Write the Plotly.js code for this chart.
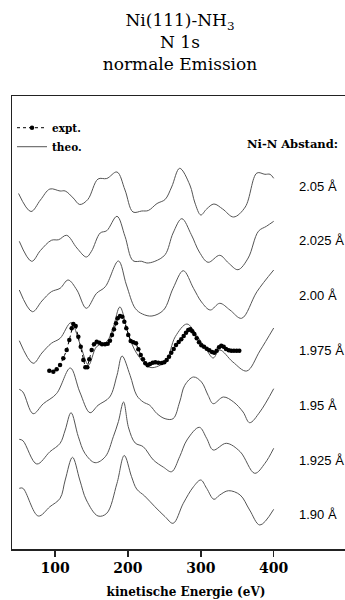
<!DOCTYPE html>
<html><head><meta charset="utf-8">
<script src="https://cdn.plot.ly/plotly-3.0.1.min.js"></script>
<style>html,body{margin:0;padding:0;overflow:hidden;background:#fff}#chart{width:360px;height:600px}</style>
</head><body><div id="chart"></div>
<script>
// Ni-N distances (one theory curve each) and vertical stacking offsets
const distances = ['2.05 Å', '2.025 Å', '2.00 Å', '1.975 Å', '1.95 Å', '1.925 Å', '1.90 Å'];
const offsets = [329, 279, 229, 177, 126, 75, 23];

// theory curves: kinetic energy (eV) and relative intensity
const E_205 = [50,67,80,93,107,114,125,134,145,159,171,185,196,207,219,228,240,251,260,271,285,292,300,308,318,330,345,361,377,388,395,400];
const I_205 = [26.5,8.5,20,31,29,29,22,15.5,20.5,41,41.5,48,30,8,9,9.5,16.5,20.5,33,51.7,35,17,5,11,16,11,3,13,47,45.7,45.7,41.7];

const E_2025 = [51,68,80,95,105,116,130,143,150,162,171,185,196,207,219,226,237,251,262,274,287,298,310,326,338,351,365,379,390,400];
const I_2025 = [28.7,8.7,19.5,29.7,30.3,34.7,22,13,18.7,37,39.3,53.7,33.7,9.3,8.7,7,8.7,15.3,37,51.3,35.3,18,7.7,14.7,7,0.3,12,38.7,43.7,48.7];

const E_200 = [51,69,82,95,107,118,130,143,157,169,187,198,210,220,233,249,262,276,290,301,313,326,340,356,377,400];
const I_200 = [30,8.3,19,28.3,31.7,40,30,11.7,26.7,33.3,59,35,11.7,6,4,10,31.7,49.3,31.7,18,10,16.7,10,1.7,28.3,50];

const E_1975 = [51,70,82,95,107,122,134,146,157,171,180,189,201,212,230,242,253,265,281,294,308,317,326,344,363,381,400];
const I_1975 = [31.3,8.7,19,28.7,33.7,49.3,28.7,7,25.3,30.3,45,65,37,18.7,4.7,6,12,35.3,48,37,22,14,22,10,1,21,44];

const E_195 = [51,56,70,84,102,121,134,148,159,175,185,192,203,212,221,230,240,251,262,271,278,290,301,310,317,331,345,358,367,381,400];
const I_195 = [33.7,31,9.3,19.3,29.3,55,31,10.3,17.7,26,47.7,67,47.7,27.7,21,17.7,9.3,4.3,4.3,21,37.7,46,41,27.7,19.3,26,21,11,0.3,11,34.3];

const E_1925 = [51,56,75,93,107,114,122,132,141,155,169,180,187,194,201,210,221,235,249,260,271,281,298,308,317,335,354,374,388,400];
const I_1925 = [34.7,33.3,10,22.3,30.7,44,61.3,37.3,20.7,11.3,17.3,37.3,52.5,72,46,31,27.3,14,6.7,2.3,17.3,34,46.7,35.7,24,30.7,22.3,0.7,10.7,25.7];

const E_190 = [51,56,77,93,107,114,124,134,143,159,171,185,195,205,212,223,237,251,262,276,290,300,308,318,326,338,354,367,381,400];
const I_190 = [37.7,37.7,10,19.3,27.7,46,68.7,46,26,10,12.7,42.7,70.5,49.3,37,30,19.3,9.3,2.7,22.7,39.3,46,37.7,26.7,31,35.3,31,16,1,16.7];

// experiment (drawn on the 1.975 Å curve)
const E_expt = [92.2,97.7,102.3,106.9,111.4,116.0,119.6,122.9,125.1,128.4,132.0,135.3,138.8,141.6,144.3,147.0,150.3,153.5,157.2,160.8,164.5,168.6,172.3,175.4,178.2,180.9,183.7,186.0,189.2,192.3,195.1,197.8,200.5,203.8,207.4,211.1,214.3,217.6,220.7,223.9,227.2,230.3,234.0,237.6,241.7,246.4,249.9,253.2,256.4,259.5,262.8,266.0,269.7,273.2,276.5,279.7,282.8,285.6,288.3,291.1,294.4,297.5,300.7,304.4,308.1,311.7,315.4,318.5,321.8,325.0,328.1,331.4,334.6,338.3,341.8,345.5,349.2,352.8];
const I_expt = [1.3,0.3,2.7,7,13.7,22,32,43.7,48,46,35.3,25.3,12,4.7,4.7,12.7,22,27.7,30.3,29.3,27.7,27.7,28.3,31.3,37,42.7,48.7,53.7,56,55.3,50.3,43.7,37,31,29.7,28.7,22.7,17,12.7,8.7,6.7,8,9.3,9.7,9.3,9,9.7,12,15.3,19.3,23,27,30,32.7,36,39.3,42,42.7,40.7,38,33.7,29.7,26.7,25.3,23.3,21.7,20,19.3,21.3,24.7,26.3,25.3,23,21.7,21.3,21.3,21.3,21.3];
const exptIndex = 3;

const xTicks = [100, 200, 300, 400];

const theoE = [E_205, E_2025, E_200, E_1975, E_195, E_1925, E_190];
const theoI = [I_205, I_2025, I_200, I_1975, I_195, I_1925, I_190];

const traces = [];
traces.push({
  x: E_expt, y: I_expt.map(v => v + offsets[exptIndex]),
  type: 'scatter', mode: 'lines+markers', name: 'expt.',
  line: {color: '#000', width: 1, dash: 'dot'},
  marker: {color: '#000', size: 4.5},
  hoverinfo: 'skip'
});
theoE.forEach((E, k) => {
  traces.push({
    x: E, y: theoI[k].map(v => v + offsets[k]),
    type: 'scatter', mode: 'lines', name: 'theo.',
    line: {color: '#555', width: 1, shape: 'spline', smoothing: 1},
    showlegend: k === 0, legendgroup: 'theo', hoverinfo: 'skip'
  });
});
// keep the experiment drawn above the theory curves
traces.push(traces.shift());

const plotTop = 96, plotBot = 549, plotH = plotBot - plotTop;
const annotations = distances.map((d, i) => ({
  text: d, xref: 'paper', yref: 'paper', x: 0.819, xanchor: 'left',
  y: (plotBot - (186 + i * 54.83)) / plotH, yanchor: 'middle', showarrow: false,
  font: {family: 'Liberation Sans', size: 13, color: '#000'}
}));
annotations.push({
  text: '<b>Ni-N Abstand:</b>', xref: 'paper', yref: 'paper', x: 0.670, xanchor: 'left',
  y: (plotBot - 144.3) / plotH, yanchor: 'middle', showarrow: false,
  font: {family: 'DejaVu Serif', size: 11.5, color: '#000'}
});

const layout = {
  width: 360, height: 600,
  margin: {l: 12, r: 0, t: plotTop, b: 600 - plotBot},
  paper_bgcolor: '#fff', plot_bgcolor: '#fff',
  title: {
    text: 'Ni(111)-NH<sub>3</sub><br>N 1s<br>normale Emission',
    font: {family: 'DejaVu Serif', size: 17, color: '#000'},
    xref: 'container', x: 0.5, xanchor: 'center',
    yref: 'container', y: 1 - 26 / 600, yanchor: 'top'
  },
  xaxis: {
    range: [41, 518.4], tickvals: xTicks, ticktext: xTicks.map(String),
    ticks: 'outside', ticklen: 6, tickwidth: 1.5, tickcolor: '#222',
    showline: true, linecolor: '#222', linewidth: 1.5, mirror: true,
    showgrid: false, zeroline: false,
    tickfont: {family: 'DejaVu Serif', size: 14, color: '#000', weight: 'bold'},
    title: {text: '<b>kinetische Energie (eV)</b>', standoff: 12,
            font: {family: 'DejaVu Serif', size: 12, color: '#000'}}
  },
  yaxis: {
    range: [0, plotH], showticklabels: false, ticks: '',
    showline: true, linecolor: '#222', linewidth: 1.5, mirror: true,
    showgrid: false, zeroline: false
  },
  legend: {
    x: 0.0, y: 0.962, xanchor: 'left', yanchor: 'top', traceorder: 'reversed',
    bgcolor: 'rgba(0,0,0,0)', itemwidth: 30, tracegroupgap: 0,
    font: {family: 'DejaVu Serif', size: 10.5, color: '#000', weight: 'bold'}
  },
  showlegend: true,
  annotations: annotations
};

Plotly.newPlot('chart', traces, layout, {displayModeBar: false, staticPlot: true});
</script>
</body></html>
